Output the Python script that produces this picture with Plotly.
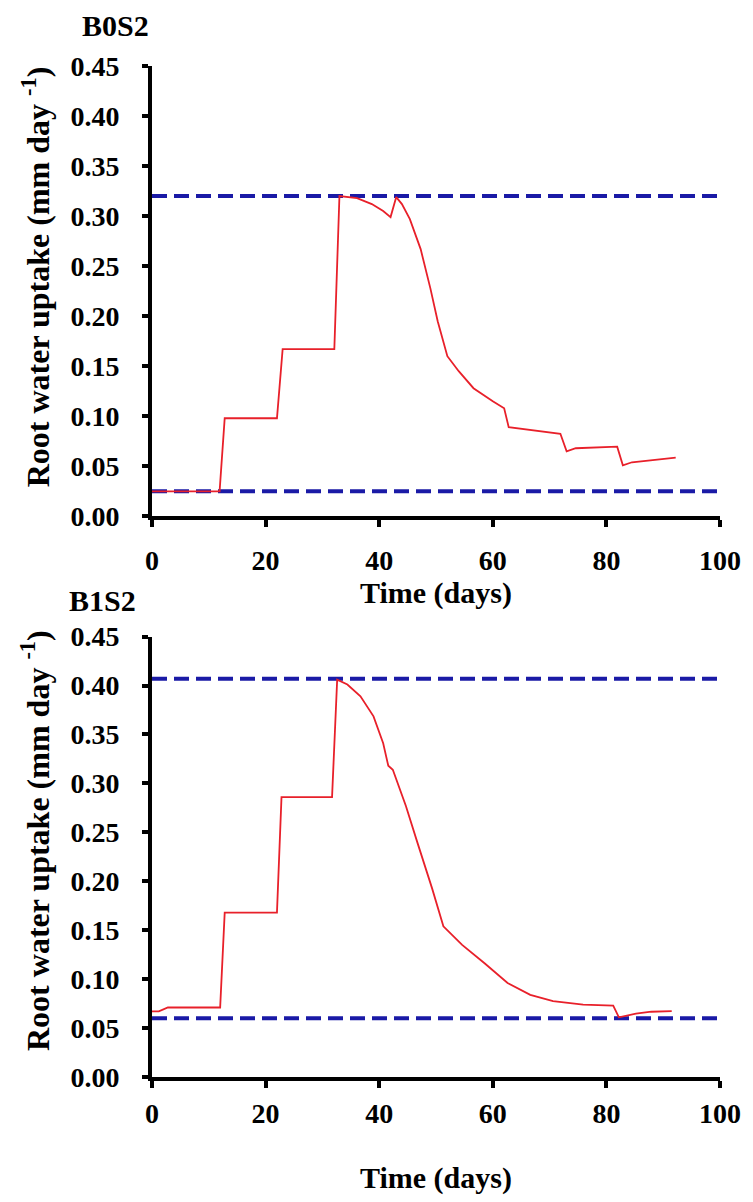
import plotly.graph_objects as go

# ---- data ----
b0s2_days = [0, 11.9, 12.8, 22.0, 23.0, 32.1, 33.0, 36.1, 38.7, 40.7, 42.0, 43.0, 44.0,
             45.4, 47.3, 49.0, 50.3, 52.0, 54.0, 56.6, 60.0, 62.0, 62.8, 71.9, 73.0,
             74.6, 81.9, 82.9, 84.5, 92.2]
b0s2_uptake = [0.025, 0.025, 0.098, 0.098, 0.167, 0.167, 0.320, 0.318, 0.312, 0.305,
               0.299, 0.319, 0.312, 0.297, 0.267, 0.228, 0.195, 0.160, 0.145, 0.128,
               0.115, 0.108, 0.089, 0.0825, 0.065, 0.068, 0.0696, 0.051, 0.054, 0.0586]
b0s2_limits = [0.32, 0.025]

b1s2_days = [0, 1.2, 2.8, 12.0, 12.8, 22.0, 22.8, 31.7, 32.6, 34.4, 36.7, 39.0, 40.7,
             41.6, 42.4, 44.7, 46.7, 49.3, 51.3, 54.6, 58.6, 62.6, 66.6, 70.6, 75.9,
             81.2, 82.2, 85.2, 87.9, 91.5]
b1s2_uptake = [0.067, 0.067, 0.071, 0.071, 0.168, 0.168, 0.286, 0.286, 0.406, 0.401,
               0.389, 0.3685, 0.341, 0.318, 0.314, 0.277, 0.240, 0.193, 0.154, 0.135,
               0.116, 0.096, 0.084, 0.0775, 0.074, 0.073, 0.061, 0.0647, 0.0667, 0.0673]
b1s2_limits = [0.407, 0.06]

x_range = [0, 100]
x_ticks = [0, 20, 40, 60, 80, 100]
y_ticks = [0.00, 0.05, 0.10, 0.15, 0.20, 0.25, 0.30, 0.35, 0.40, 0.45]
panel_names = ["B0S2", "B1S2"]
y_title = "Root water uptake (mm day <sup>-1</sup>)"
x_title = "Time (days)"

RED = "#e8202a"
BLUE = "#1a1aa6"
FONT = "Liberation Serif"

fig = go.Figure()

panels = [
    (b0s2_days, b0s2_uptake, b0s2_limits, "x", "y"),
    (b1s2_days, b1s2_uptake, b1s2_limits, "x2", "y2"),
]
for days, up, limits, xa, ya in panels:
    for lim in limits:
        fig.add_trace(go.Scatter(x=x_range, y=[lim, lim], mode="lines",
                                 line=dict(color=BLUE, width=4, dash="15px,7px"),
                                 xaxis=xa, yaxis=ya, showlegend=False, hoverinfo="skip"))
    fig.add_trace(go.Scatter(x=days, y=up, mode="lines",
                             line=dict(color=RED, width=1.8),
                             xaxis=xa, yaxis=ya, showlegend=False))

tick_font = dict(family=FONT, size=28, color="black", weight="bold")
title_font = dict(family=FONT, size=30, color="black")

def xaxis(anchor, standoff_lbl, standoff_title):
    return dict(range=x_range, tickvals=x_ticks, ticks="outside", ticklen=7, tickwidth=4,
                tickcolor="black", showline=True, linewidth=4, linecolor="black",
                showgrid=False, zeroline=False, anchor=anchor, tickfont=tick_font,
                ticklabelstandoff=standoff_lbl,
                title=dict(text="<b>%s</b>" % x_title, font=title_font, standoff=standoff_title))

def yaxis(anchor, domain):
    return dict(range=[0, 0.45], tickvals=y_ticks, tickformat=".2f", ticks="outside",
                ticklen=6, tickwidth=4, tickcolor="black", showline=True, linewidth=4,
                linecolor="black", showgrid=False, zeroline=False, anchor=anchor,
                domain=domain, tickfont=tick_font, ticklabelstandoff=17)

def ytitle(ypos):
    return dict(text="<b>%s</b>" % y_title, xref="paper", yref="paper", x=-0.205, y=ypos,
                xanchor="center", yanchor="middle", showarrow=False, textangle=-90,
                font=dict(family=FONT, size=32, color="black"))

def panel_label(name, xpos, ypos):
    return dict(text="<b>%s</b>" % name, xref="paper", yref="paper", x=xpos, y=ypos,
                xanchor="center", yanchor="middle", showarrow=False,
                font=dict(family=FONT, size=30, color="black"))

# page body has an 8px default margin, so the figure is made 8px smaller on each side
fig.update_layout(
    width=745, height=1194,
    margin=dict(l=144, r=26, t=58, b=119),
    paper_bgcolor="white", plot_bgcolor="white",
    font=dict(family=FONT, color="black"),
    xaxis=xaxis("y", 9, 2),
    yaxis=yaxis("x", [0.5546, 1.0]),
    xaxis2=xaxis("y2", 1, 40),
    yaxis2=yaxis("x2", [0.0, 0.4356]),
    annotations=[
        panel_label(panel_names[0], -0.064, 1.040),
        panel_label(panel_names[1], -0.087, 0.471),
        ytitle(0.7915),
        ytitle(0.234),
    ],
)

fig.write_html("out.html")
